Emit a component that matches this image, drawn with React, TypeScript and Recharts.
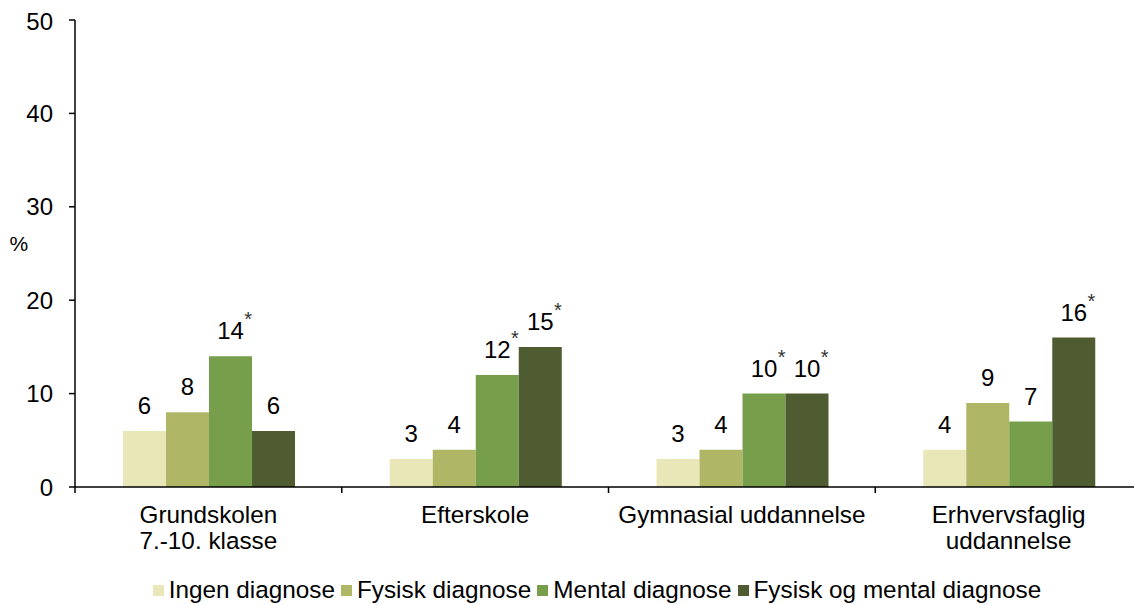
import { BarChart, Bar, XAxis, YAxis, Legend, LabelList } from 'recharts'

const categories = ['Grundskolen\n7.-10. klasse', 'Efterskole', 'Gymnasial uddannelse', 'Erhvervsfaglig\nuddannelse']
const ingen = [6, 3, 3, 4]
const fysisk = [8, 4, 4, 9]
const mental = [14, 12, 10, 7]
const begge = [6, 15, 10, 16]
// asterisks next to value labels
const mentalStar = [true, true, true, false]
const beggeStar = [false, true, true, true]
const yTicks = [0, 10, 20, 30, 40, 50]

const seriesList = [
  { key: 'ingen', name: 'Ingen diagnose', color: '#E9E7B8', stars: null as boolean[] | null },
  { key: 'fysisk', name: 'Fysisk diagnose', color: '#AFB767', stars: null },
  { key: 'mental', name: 'Mental diagnose', color: '#769E4B', stars: mentalStar },
  { key: 'begge', name: 'Fysisk og mental diagnose', color: '#4F5C31', stars: beggeStar },
]

const data = categories.map((c, i) => ({
  cat: c,
  ingen: ingen[i],
  fysisk: fysisk[i],
  mental: mental[i],
  begge: begge[i],
}))

const FONT = "'Liberation Sans', Arial, sans-serif"
const W = 1134
const H = 597
const YW = 67
const band = (W - YW) / categories.length

function CatTick(props: any) {
  const { x, y, payload, index } = props
  const lines = String(payload.value).split('\n')
  return (
    <g>
      {index === 0 && <line x1={x - band / 2} x2={x - band / 2} y1={y} y2={y + 6} stroke="#000" strokeWidth={1.5} />}
      <line x1={x + band / 2} x2={x + band / 2} y1={y} y2={y + 6} stroke="#000" strokeWidth={1.5} />
      <text x={x} y={y + 36} textAnchor="middle" fontSize={24.3} fontFamily={FONT} fill="#000">
        {lines.map((l, i) => (
          <tspan key={i} x={x} dy={i === 0 ? 0 : 26}>{l}</tspan>
        ))}
      </text>
    </g>
  )
}

function makeValueLabel(stars: boolean[] | null) {
  return (props: any) => {
    const { x, y, width, value, index } = props
    const cx = x + width / 2
    const tw = String(value).length * 0.556 * 24
    return (
      <g>
        <text x={cx} y={y - 17} textAnchor="middle" fontSize={24} fontFamily={FONT} fill="#000">{value}</text>
        {stars && stars[index] && (
          <text x={cx + tw / 2 + 0.5} y={y - 30} textAnchor="start" fontSize={20} fontFamily={FONT} fill="#333">*</text>
        )}
      </g>
    )
  }
}

function LegendBox() {
  return (
    <div style={{ display: 'flex', justifyContent: 'center', alignItems: 'center', height: 30, paddingLeft: 50, fontFamily: FONT, fontSize: 24.3, color: '#000' }}>
      {seriesList.map((s) => (
        <div key={s.key} style={{ display: 'flex', alignItems: 'center', marginRight: 6 }}>
          <span style={{ display: 'inline-block', width: 11, height: 11, background: s.color, marginRight: 5 }} />
          <span style={{ whiteSpace: 'nowrap' }}>{s.name}</span>
        </div>
      ))}
    </div>
  )
}

function PercentLabel(props: any) {
  const { viewBox } = props
  return (
    <text x={viewBox.x + 1.5} y={243} fontSize={21} fontFamily={FONT} fill="#000">%</text>
  )
}

export default function App() {
  return (
    <BarChart width={W} height={H} data={data} margin={{ top: 12, right: 0, left: 0, bottom: 0 }} barGap={0} barCategoryGap="18%">
      <XAxis
        dataKey="cat"
        height={88}
        tickLine={false}
        tickSize={0}
        tickMargin={0}
        axisLine={{ stroke: '#000', strokeWidth: 1.5 }}
        tick={<CatTick />}
        interval={0}
      />
      <YAxis
        width={YW}
        domain={[0, 50]}
        ticks={yTicks}
        tickSize={6}
        tickMargin={16}
        axisLine={{ stroke: '#000', strokeWidth: 1.5 }}
        tickLine={{ stroke: '#000', strokeWidth: 1.5 }}
        tick={{ fontSize: 24, fontFamily: FONT, fill: '#000' }}
        label={<PercentLabel />}
      />
      <Legend verticalAlign="bottom" content={<LegendBox />} />
      {seriesList.map((s) => (
        <Bar key={s.key} dataKey={s.key} name={s.name} fill={s.color} isAnimationActive={false}>
          <LabelList dataKey={s.key} content={makeValueLabel(s.stars)} />
        </Bar>
      ))}
    </BarChart>
  )
}
